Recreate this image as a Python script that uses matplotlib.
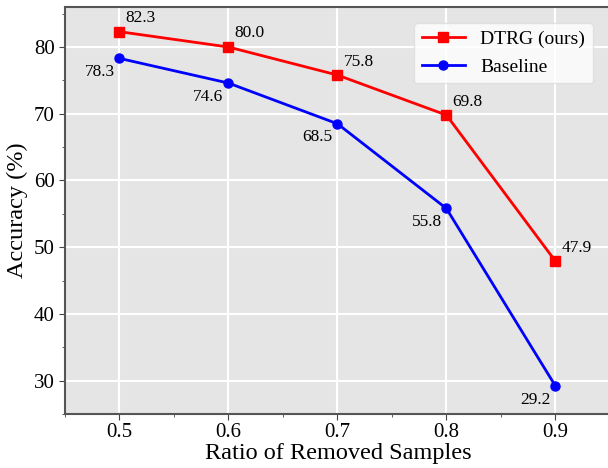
import matplotlib
matplotlib.use("Agg")
import matplotlib.pyplot as plt
from matplotlib.ticker import MultipleLocator

ratios = [0.5, 0.6, 0.7, 0.8, 0.9]
dtrg = [82.3, 80.0, 75.8, 69.8, 47.9]
baseline = [78.3, 74.6, 68.5, 55.8, 29.2]

plt.rcParams['font.family'] = ['Liberation Serif', 'DejaVu Serif']

fig = plt.figure(figsize=(6.08, 4.68), dpi=100)
ax = fig.add_axes([65/608, 54/468, 546/608, 407/468])
ax.set_facecolor('#e5e5e5')
ax.grid(True, color='white', linewidth=1.5)
ax.set_axisbelow(True)

ax.plot(ratios, dtrg, color='red', marker='s', markersize=6.5, linewidth=2, label='DTRG (ours)')
ax.plot(ratios, baseline, color='blue', marker='o', markersize=6.5, linewidth=2, label='Baseline')

for x, y in zip(ratios, dtrg):
    ax.annotate(f"{y:.1f}", (x, y), xytext=(4.5, 4), textcoords='offset points',
                ha='left', va='bottom', fontsize=12.5)
for x, y in zip(ratios, baseline):
    ax.annotate(f"{y:.1f}", (x, y), xytext=(-3.5, -4), textcoords='offset points',
                ha='right', va='top', fontsize=12.5)

ax.set_xlim(0.45, 0.951)
ax.set_ylim(25, 86)
ax.set_xticks(ratios)
ax.xaxis.set_minor_locator(MultipleLocator(0.05))
ax.yaxis.set_major_locator(MultipleLocator(10))
ax.yaxis.set_minor_locator(MultipleLocator(5))
ax.tick_params(axis='both', which='major', labelsize=15, length=4, color='#444444', direction='out')
ax.tick_params(axis='x', which='major', pad=2.5)
ax.tick_params(axis='both', which='minor', length=2, color='#444444', direction='out')
for s in ax.spines.values():
    s.set_color('#555555')
    s.set_linewidth(1.5)

ax.set_xlabel('Ratio of Removed Samples', fontsize=17.5, labelpad=1)
ax.set_ylabel('Accuracy (%)', fontsize=17.5)

leg = ax.legend(loc='upper right', bbox_to_anchor=(0.985, 0.985), fontsize=14, framealpha=0.8,
                facecolor='white', edgecolor='#dddddd', handlelength=2.2)

fig.savefig('out.png', dpi=100)
